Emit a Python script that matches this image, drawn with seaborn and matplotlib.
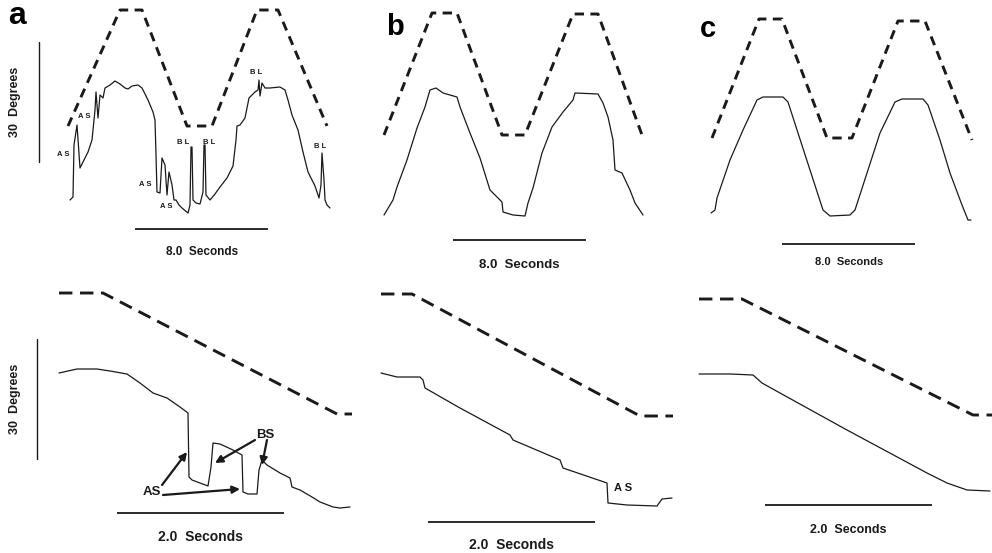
import matplotlib
matplotlib.use("Agg")
import matplotlib.pyplot as plt
import seaborn as sns

# ---------------- DATA (time in s, angle in degrees) ----------------
# Top row: 8 s trapezoidal tracking; dashed = target, solid = head response
a_top_cmd_t = [0, 3.12, 4.44, 7.14, 8.64, 11.34, 12.6, 15.54]
a_top_cmd_deg = [22.25, 51.25, 51.25, 22.25, 22.25, 51.25, 51.25, 22.25]
a_top_resp_t = [0.12, 0.30, 0.36, 0.54, 0.72, 1.02, 1.20, 1.44, 1.62, 1.68, 1.80, 1.92, 2.10,
                2.22, 2.52, 2.82, 3.12, 3.42, 3.60, 3.84, 4.20, 4.44, 4.80, 5.10, 5.22, 5.28,
                5.34, 5.52, 5.64, 5.82, 5.94, 6.06, 6.24, 6.36, 6.48, 6.66, 6.84, 7.20, 7.32,
                7.38, 7.44, 7.50, 7.68, 7.92, 8.10, 8.16, 8.22, 8.28, 8.52, 8.82, 9.12, 9.54,
                9.90, 10.08, 10.14, 10.32, 10.62, 10.86, 11.22, 11.40, 11.46, 11.52, 11.64,
                11.82, 12.12, 12.72, 13.02, 13.20, 13.44, 13.80, 14.10, 14.40, 14.82, 15.06,
                15.18, 15.24, 15.36, 15.42, 15.54, 15.72]
a_top_resp_deg = [3.75, 4.5, 17.5, 22.5, 11.75, 14.25, 15.75, 18.75, 26.25, 30.75, 24.25, 30, 29.25,
                  31.75, 32.5, 33.5, 32.75, 31.75, 31.5, 32.25, 32.5, 31.75, 28.75, 25.75, 23.75, 15,
                  5.75, 5.5, 14.25, 12.5, 5, 10.75, 7.5, 3.75, 3.75, 2.5, 1.75, 0.5, 2.5,
                  17, 17, 3.75, 3, 2.75, 5.75, 17.5, 17.5, 5, 3.75, 5.25, 7, 9.25,
                  12.25, 18.75, 22.25, 22.5, 24.25, 29.25, 30.75, 31.25, 33.75, 29.75, 33,
                  31.75, 31.75, 32, 31.25, 28.75, 25, 21.25, 15.75, 10.75, 7.25, 4.25,
                  7.5, 15.5, 8.75, 3.75, 2.5, 1.75]

b_top_cmd_t = [0, 2.88, 4.38, 7.08, 8.46, 11.34, 12.84, 15.48]
b_top_cmd_deg = [21.25, 51.75, 51.75, 21.25, 21.25, 51.5, 51.5, 21.25]
b_top_resp_t = [0, 0.54, 0.78, 1.38, 1.98, 2.46, 2.76, 3.12, 3.54, 4.38, 4.56, 5.16, 5.76, 6.36,
                7.08, 7.14, 7.74, 8.46, 8.64, 8.94, 9.48, 10.08, 10.74, 11.34, 11.46, 12.84,
                13.14, 13.44, 13.74, 13.86, 14.28, 14.76, 15.06, 15.54]
b_top_resp_deg = [1.25, 5, 8.25, 15, 23, 28.25, 32.5, 33, 31.75, 30.75, 28.25, 21.75, 15.5, 7.5,
                  4.5, 2, 1.25, 1, 4.25, 8, 16.75, 23.25, 27, 30, 31.75, 31.5,
                  29.25, 25.75, 20, 12.5, 11.75, 7.5, 4.25, 1.25]

c_top_cmd_t = [0.06, 2.88, 4.26, 6.96, 8.46, 11.22, 12.84, 15.66]
c_top_cmd_deg = [20.5, 50.25, 50.25, 20.5, 20.5, 49.75, 49.75, 20]
c_top_resp_t = [0, 0.24, 0.36, 1.14, 1.92, 2.76, 3.12, 4.32, 4.62, 5.22, 5.94, 6.72, 7.14, 8.34,
                8.64, 9.36, 10.14, 11.04, 11.46, 12.72, 13.02, 13.74, 14.34, 15.06, 15.42, 15.6]
c_top_resp_deg = [1.75, 2.5, 5.5, 15, 22.5, 30, 30.75, 30.75, 29.5, 21.75, 12.5, 2.5, 1, 1.25,
                  2.5, 11.75, 21.75, 29.5, 30.25, 30.25, 28.75, 20, 11.75, 3.75, 0, 0]

# Bottom row: 2 s ramp; dashed = target, solid = head response
a_bot_cmd_t = [0, 0.528, 3.336, 3.516]
a_bot_cmd_deg = [54.25, 54.25, 24, 24]
a_bot_resp_t = [0, 0.216, 0.456, 0.612, 0.816, 0.972, 1.128, 1.296, 1.452, 1.548, 1.56, 1.596,
                1.692, 1.788, 1.824, 1.848, 1.932, 2.088, 2.196, 2.208, 2.268, 2.376, 2.4, 2.436,
                2.496, 2.652, 2.772, 2.796, 2.892, 3.036, 3.132, 3.288, 3.372, 3.492]
a_bot_resp_deg = [34.25, 35.25, 35.25, 34.75, 34, 31.75, 29.25, 28, 25.75, 24.25, 8.25, 7.5,
                  6.75, 6, 10.75, 16.75, 16.5, 15, 13.75, 4.5, 4, 4, 10, 12.5,
                  11.25, 9.25, 8, 5.75, 5, 3.25, 2, 0.75, 0.5, 0.75]

b_bot_cmd_t = [0, 0.372, 3.108, 3.504]
b_bot_cmd_deg = [54, 54, 23.5, 23.5]
b_bot_resp_t = [0, 0.192, 0.468, 0.504, 0.528, 0.948, 1.548, 1.584, 2.148, 2.184, 2.712, 2.724,
                2.952, 3.312, 3.372, 3.492]
b_bot_resp_deg = [34.25, 33.25, 33.25, 32.5, 30.5, 25.5, 18.75, 17.5, 12.5, 10.5, 6.75, 1.75,
                  1.25, 1, 2.75, 3]

c_bot_cmd_t = [0, 0.516, 3.288, 3.516]
c_bot_cmd_deg = [52.75, 52.75, 23.75, 23.75]
c_bot_resp_t = [0, 0.372, 0.648, 0.756, 0.972, 1.776, 2.736, 2.976, 3.216, 3.492]
c_bot_resp_deg = [34, 34, 33.75, 31.75, 29.25, 20, 9.25, 6.75, 5, 4.75]

panel_letters = ["a", "b", "c"]
top_bar_seconds = 8.0
bottom_bar_seconds = 2.0
deg_bar = 30.0
top_bar_label = "8.0  Seconds"
bottom_bar_label = "2.0  Seconds"
deg_label = "30  Degrees"

# ---------------- FIGURE ----------------
sns.set_theme(style="white")
plt.rcParams["font.family"] = ["Liberation Sans", "DejaVu Sans"]
W, H = 992, 553
fig = plt.figure(figsize=(W / 100, H / 100), dpi=100)
fig.patch.set_facecolor("white")

INK = "#1a1a1a"


def panel_axes(cell, x0, ybase, sx, sy=0.25):
    L, T, R, B = cell
    ax = fig.add_axes([L / W, 1 - B / H, (R - L) / W, (B - T) / H])
    ax.set_xlim(sx * (L - x0), sx * (R - x0))
    ax.set_ylim(sy * (ybase - B), sy * (ybase - T))
    ax.axis("off")
    return ax


def draw_traces(ax, ct, cd, rt, rd, dash):
    sns.lineplot(x=ct, y=cd, ax=ax, sort=False, estimator=None, color=INK,
                 linewidth=2.1, linestyle=(0, dash))
    sns.lineplot(x=rt, y=rd, ax=ax, sort=False, estimator=None, color=INK,
                 linewidth=0.9)


def time_bar(ax, start, y, length, label, label_y, fs=9.5):
    ax.plot([start, start + length], [y, y], color=INK, lw=1.3, solid_capstyle="butt")
    ax.text(start + length / 2, label_y, label, ha="center", va="center",
            fontsize=fs, fontweight="bold", color=INK)


def deg_scale(ax, x, y0, length, text_x):
    ax.plot([x, x], [y0, y0 + length], color=INK, lw=1.0)
    ax.text(text_x, y0 + length / 2, deg_label, rotation=90, ha="center", va="center",
            fontsize=9, fontweight="bold", color=INK)


cols = [(0, 355), (355, 675), (675, 992)]
rows = [(0, 275), (275, 553)]

# ---- top row ----
top_data = [
    (a_top_cmd_t, a_top_cmd_deg, a_top_resp_t, a_top_resp_deg, 68, 215),
    (b_top_cmd_t, b_top_cmd_deg, b_top_resp_t, b_top_resp_deg, 384, 220),
    (c_top_cmd_t, c_top_cmd_deg, c_top_resp_t, c_top_resp_deg, 711, 220),
]
top_axes = []
for (L, R), (ct, cd, rt, rd, x0, yb) in zip(cols, top_data):
    ax = panel_axes((L, rows[0][0], R, rows[0][1]), x0, yb, 0.06)
    draw_traces(ax, ct, cd, rt, rd, (3.2, 2.2))
    top_axes.append(ax)

time_bar(top_axes[0], 4.02, -3.5, top_bar_seconds, top_bar_label, -9.25, fs=8.5)
time_bar(top_axes[1], 4.14, -5.0, top_bar_seconds, top_bar_label, -11.25, fs=9.5)
time_bar(top_axes[2], 4.26, -6.0, top_bar_seconds, top_bar_label, -10.5, fs=8)
deg_scale(top_axes[0], -1.74, 13.25, deg_bar, -3.18)

small = dict(fontsize=5.5, fontweight="bold", color=INK, ha="center", va="center")
for (tx, ty, s) in [(0.96, 24.5, "A S"), (-0.3, 15.25, "A S"), (4.62, 7.75, "A S"),
                    (5.88, 2.0, "A S"), (6.9, 18.25, "B L"), (8.46, 18.25, "B L"),
                    (11.28, 35.75, "B L"), (15.12, 17.0, "B L")]:
    top_axes[0].text(tx, ty, s, **small)

# ---- bottom row ----
bot_data = [
    (a_bot_cmd_t, a_bot_cmd_deg, a_bot_resp_t, a_bot_resp_deg, 59, 510),
    (b_bot_cmd_t, b_bot_cmd_deg, b_bot_resp_t, b_bot_resp_deg, 381, 510),
    (c_bot_cmd_t, c_bot_cmd_deg, c_bot_resp_t, c_bot_resp_deg, 699, 510),
]
bot_axes = []
for (L, R), (ct, cd, rt, rd, x0, yb) in zip(cols, bot_data):
    ax = panel_axes((L, rows[1][0], R, rows[1][1]), x0, yb, 0.012)
    draw_traces(ax, ct, cd, rt, rd, (4.6, 2.6))
    bot_axes.append(ax)

time_bar(bot_axes[0], 0.696, -0.75, bottom_bar_seconds, bottom_bar_label, -6.75, fs=10)
time_bar(bot_axes[1], 0.564, -3.0, bottom_bar_seconds, bottom_bar_label, -8.75, fs=10)
time_bar(bot_axes[2], 0.792, 1.25, bottom_bar_seconds, bottom_bar_label, -5.0, fs=9)
deg_scale(bot_axes[0], -0.264, 12.75, deg_bar, -0.528)

# annotations in bottom a
axa = bot_axes[0]
axa.text(1.116, 4.5, "AS", ha="center", va="center", fontsize=9.5, fontweight="bold", color=INK)
axa.text(2.472, 18.75, "BS", ha="center", va="center", fontsize=9.5, fontweight="bold", color=INK)
arrow = dict(arrowstyle="-|>", lw=1.6, color=INK, mutation_scale=11, shrinkA=0, shrinkB=0)
for tail, head in [((1.236, 6.25), (1.536, 14.5)), ((1.248, 3.75), (2.172, 5.25)),
                   ((2.352, 17.5), (1.872, 11.75)), ((2.496, 17.5), (2.436, 11.25))]:
    axa.annotate("", xy=head, xytext=tail, arrowprops=arrow)

bot_axes[1].text(2.904, 5.5, "A S", ha="center", va="center", fontsize=8,
                 fontweight="bold", color=INK)

# panel letters
for (px, py, fs), letter in zip([(17, 16, 23), (395, 27, 21), (708, 29, 21)], panel_letters):
    fig.text(px / W, 1 - py / H, letter, ha="center", va="center", fontsize=fs,
             fontweight="bold", color="black")

fig.savefig("out.png", dpi=100, facecolor="white")
